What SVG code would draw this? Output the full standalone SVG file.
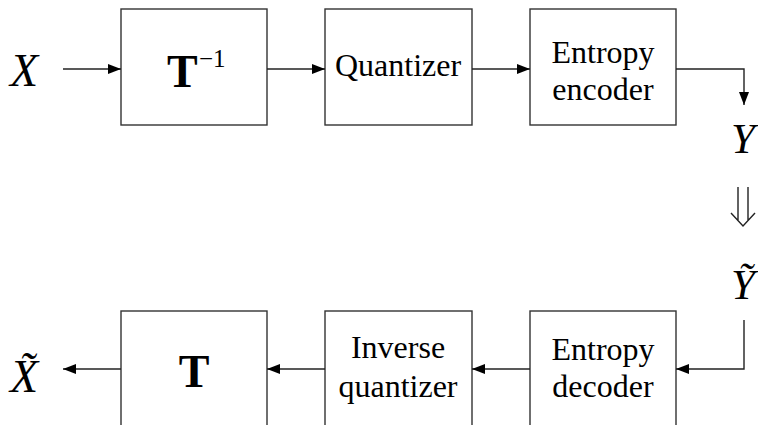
<svg xmlns="http://www.w3.org/2000/svg" width="758" height="425" viewBox="0 0 758 425">
  <defs>
    <marker id="arrow" viewBox="0 0 13 10" refX="13" refY="5" markerWidth="13" markerHeight="10" markerUnits="userSpaceOnUse" orient="auto">
      <path d="M0,0 L13,5 L0,10 Z" fill="#000"/>
    </marker>
    <style>
      .box { fill: #fff; stroke: #333; stroke-width: 1.4; }
      .wire { fill: none; stroke: #222; stroke-width: 1.4; }
      .lbl { font-family: "Liberation Serif", "Times New Roman", serif; font-size: 32px; fill: #000; text-anchor: middle; }
      .var { font-family: "Liberation Serif", "Times New Roman", serif; font-size: 43px; font-style: italic; fill: #000; }
      .big { font-size: 46px; }
      .op { font-family: "Liberation Serif", "Times New Roman", serif; font-weight: bold; font-size: 46px; fill: #000; }
      .sup { font-family: "Liberation Serif", "Times New Roman", serif; font-size: 25px; fill: #000; }
    </style>
  </defs>

  <!-- encoder chain -->
  <g id="input-x">
    <text class="var big" x="10" y="86">X</text>
  </g>
  <g id="inverse-transform">
    <rect class="box" x="121" y="9" width="146" height="116"/>
    <text class="op" x="167" y="87">T</text>
    <text class="sup" x="199" y="67">−1</text>
  </g>
  <g id="quantizer">
    <rect class="box" x="325" y="9" width="147" height="116"/>
    <text class="lbl" x="398" y="76">Quantizer</text>
  </g>
  <g id="entropy-encoder">
    <rect class="box" x="530" y="9" width="146" height="116"/>
    <text class="lbl" x="603" y="63">Entropy</text>
    <text class="lbl" x="603" y="100">encoder</text>
  </g>
  <g id="output-y">
    <text class="var" x="731" y="153">Y</text>
  </g>
  <g id="received-y">
    <!-- Y with tilde (combining mark) -->
    <text class="var" x="731" y="299">Y&#x303;</text>
  </g>

  <!-- decoder chain -->
  <g id="entropy-decoder">
    <rect class="box" x="530" y="311" width="146" height="130"/>
    <text class="lbl" x="603" y="360">Entropy</text>
    <text class="lbl" x="603" y="397">decoder</text>
  </g>
  <g id="inverse-quantizer">
    <rect class="box" x="325" y="311" width="147" height="130"/>
    <text class="lbl" x="398" y="358">Inverse</text>
    <text class="lbl" x="398" y="397">quantizer</text>
  </g>
  <g id="transform">
    <rect class="box" x="121" y="311" width="146" height="130"/>
    <text class="op" x="194" y="387" text-anchor="middle">T</text>
  </g>
  <g id="output-x">
    <!-- X with tilde (combining mark) -->
    <text class="var big" x="10" y="392">X&#x303;</text>
  </g>

  <g id="connectors">
    <line class="wire" x1="63" y1="69" x2="121" y2="69" marker-end="url(#arrow)"/>
    <line class="wire" x1="267" y1="69" x2="325" y2="69" marker-end="url(#arrow)"/>
    <line class="wire" x1="472" y1="69" x2="530" y2="69" marker-end="url(#arrow)"/>
    <polyline class="wire" points="676,69 744,69 744,105" marker-end="url(#arrow)"/>
    <!-- channel: double arrow -->
    <path class="wire" d="M738,187 V220 M748,187 V220 M731,213 L743,226 L755,213"/>
    <polyline class="wire" points="744,320 744,369 676,369" marker-end="url(#arrow)"/>
    <line class="wire" x1="530" y1="369" x2="472" y2="369" marker-end="url(#arrow)"/>
    <line class="wire" x1="325" y1="369" x2="267" y2="369" marker-end="url(#arrow)"/>
    <line class="wire" x1="121" y1="369" x2="63" y2="369" marker-end="url(#arrow)"/>
  </g>
</svg>
